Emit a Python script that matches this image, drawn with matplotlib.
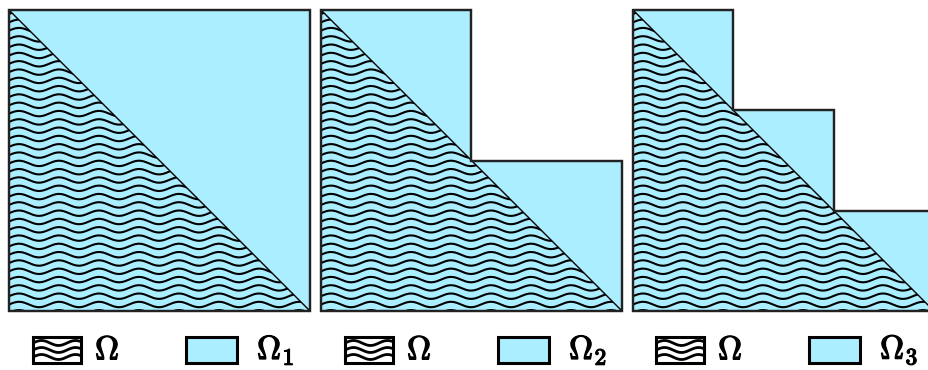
import numpy as np
import matplotlib.pyplot as plt
from matplotlib.patches import Polygon, Rectangle
import matplotlib.patheffects as pe

plt.rcParams['mathtext.fontset'] = 'cm'

# Diagram description
panel_lefts = [9, 321, 633]
panel_top = 10
panel_size = 301
n_steps = [1, 2, 3]
labels_left = [r'$\Omega$', r'$\Omega$', r'$\Omega$']
labels_right = [r'$\Omega_1$', r'$\Omega_2$', r'$\Omega_3$']
legend_offsets = [0, 312, 623]

fill_color = '#aaeeff'
edge_color = '#222222'
W, H = 929, 370

fig = plt.figure(figsize=(W / 100, H / 100), dpi=100)
ax = fig.add_axes([0, 0, 1, 1])
ax.set_xlim(0, W)
ax.set_ylim(H, 0)
ax.axis('off')

wave_len = 40.0
amp = 2.7
spacing = 8.3

for left, n, lo, ll, lr in zip(panel_lefts, n_steps, legend_offsets, labels_left, labels_right):
    s = panel_size
    top = panel_top
    bottom = top + s
    step = s / n
    pts = [(left, top)]
    for k in range(n):
        x_r = left + step * (k + 1)
        pts.append((x_r, top + step * k))
        pts.append((x_r, top + step * (k + 1)))
    pts.append((left, bottom))
    poly = Polygon(pts, closed=True, facecolor=fill_color, edgecolor=edge_color, lw=1.6, zorder=1)
    ax.add_patch(poly)
    tri = Polygon([(left, top), (left, bottom), (left + s, bottom)], closed=True,
                  facecolor='none', edgecolor='none')
    ax.add_patch(tri)
    xs = np.linspace(left, left + s, 600)
    y0 = top + 4
    while y0 < bottom + 4:
        ys = y0 - amp * np.sin(2 * np.pi * (xs - left) / wave_len)
        line, = ax.plot(xs, ys, color='black', lw=1.5, zorder=2)
        line.set_clip_path(tri)
        y0 += spacing
    ax.plot([left, left + s], [top, bottom], color='black', lw=1.0, zorder=3)
    poly2 = Polygon(pts, closed=True, facecolor='none', edgecolor=edge_color, lw=1.6, zorder=4)
    ax.add_patch(poly2)

    # legend
    bx0, by0, bw, bh = 33 + lo, 337, 48, 26
    rect = Rectangle((bx0, by0), bw, bh, facecolor='white', edgecolor='black', lw=2.2, zorder=5)
    ax.add_patch(rect)
    lx = np.linspace(bx0, bx0 + bw, 200)
    for j in range(3):
        yy = by0 + 6 + j * 7 - 2.5 * np.sin(2 * np.pi * (lx - bx0) / 34.0)
        l2, = ax.plot(lx, yy, color='black', lw=2.0, zorder=6)
        l2.set_clip_path(rect)
    effects = [pe.withStroke(linewidth=0.9, foreground='black')]
    ax.text(95 + lo, 350, ll, fontsize=24, va='center', ha='left', zorder=7, path_effects=effects)
    rect2 = Rectangle((186 + lo, by0), 51, bh, facecolor=fill_color, edgecolor='black', lw=2.2, zorder=5)
    ax.add_patch(rect2)
    ax.text(257 + lo, 350, lr, fontsize=24, va='center', ha='left', zorder=7, path_effects=effects)

fig.savefig('out.png', dpi=100)
